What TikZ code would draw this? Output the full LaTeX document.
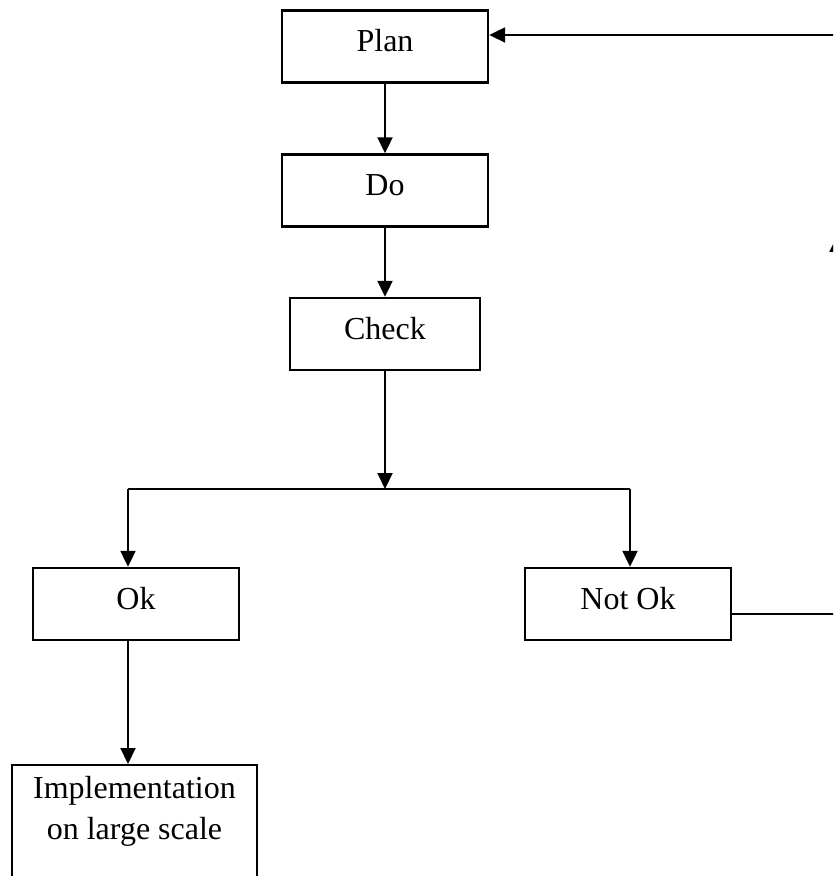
\documentclass[tikz,border=0pt]{standalone}
\usepackage{fontspec}
\setmainfont{Liberation Serif}
\usetikzlibrary{arrows.meta}
\begin{document}
\begin{tikzpicture}[x=0.375pt,y=-0.375pt,line width=0.9pt,
  font=\fontsize{12}{15.4}\selectfont,
  stepbox/.style={draw,line width=0.9pt,inner xsep=0pt,inner ysep=0pt,
    text height=15.5pt,text depth=11.5pt,minimum width=#1},
  arr/.style={-{Triangle[length=6pt,width=5.6pt]}}]
\useasboundingbox (0,0) rectangle (833,876);
\clip (0,0) rectangle (833,876);

\node[stepbox=77.25pt] (plan) at (385,46.5) {Plan};
\node[stepbox=77.25pt] (do) at (385,190.5) {Do};
\node[stepbox=71.25pt] (check) at (385,334) {Check};

\node[stepbox=77.25pt] (ok) at (136,604) {Ok};
\node[stepbox=77.25pt] (notok) at (628,604) {Not Ok};

\node[draw,line width=0.9pt,anchor=north,align=center,inner xsep=0pt,inner ysep=0pt,
  minimum width=91.9pt,text height=27.8pt,text depth=30pt] (impl) at (134.5,764)
  {Implementation\\on large scale};

\coordinate (split) at (385,489);
\coordinate (splitL) at (128,489);
\coordinate (splitR) at (630,489);
\coordinate (loopbot) at (837,614);
\coordinate (loopmid) at (837,236);
\coordinate (looptop) at (837,35);

\draw[arr] (plan) -- (do);
\draw[arr] (do) -- (check);
\draw[arr] (check) -- (split);
\draw (splitL) -- (splitR);
\draw[arr] (splitL) -- (splitL |- ok.north);
\draw[arr] (splitR) -- (splitR |- notok.north);
\draw[arr] (ok.south -| splitL) -- (splitL |- impl.north);

% loop back to plan
\draw (notok.east |- loopbot) -- (loopbot) -- (looptop);
\draw[arr] (loopbot) -- (loopmid);
\draw[arr] (looptop) -- (plan.east |- looptop);

\end{tikzpicture}
\end{document}
